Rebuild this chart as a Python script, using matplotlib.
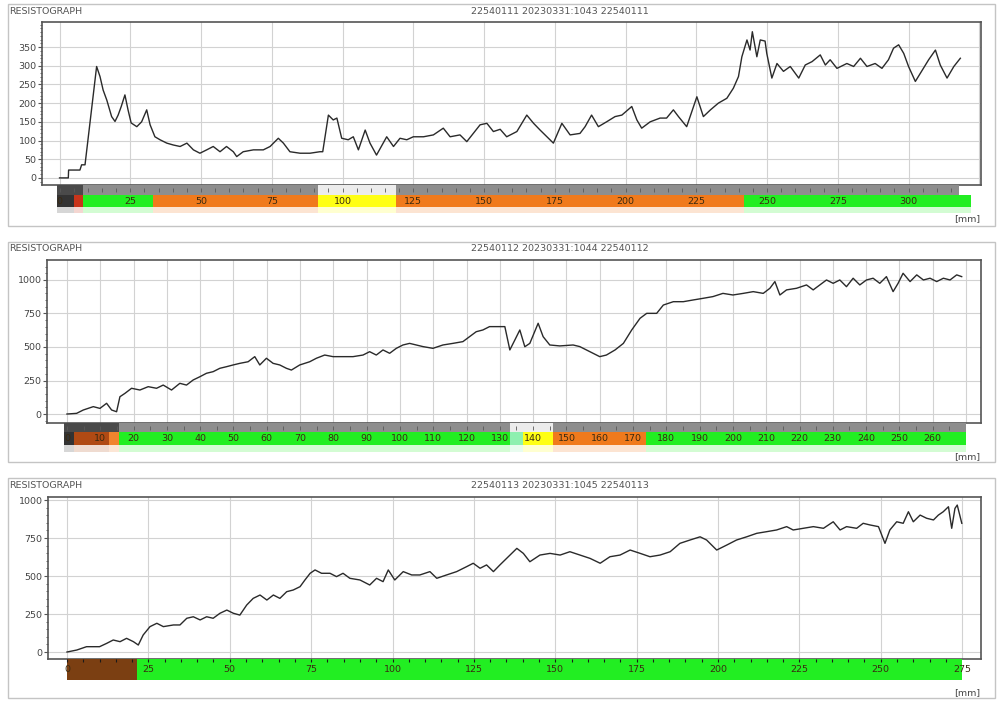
import matplotlib
matplotlib.use("Agg")
import matplotlib.pyplot as plt
from matplotlib.patches import Rectangle
from matplotlib.ticker import MultipleLocator, AutoMinorLocator

# ---------------- data ----------------
titles = ["22540111 20230331:1043 22540111",
          "22540112 20230331:1044 22540112",
          "22540113 20230331:1045 22540113"]

depth1 = [0, 3.1, 3.2, 7.2, 7.8, 9.0, 13.1, 14.3, 15.4, 16.7, 18.4, 19.6, 20.7, 21.8, 23.1, 24.2, 25.3, 27.3, 29.0,
          30.8, 32.0, 33.7, 35.5, 37.9, 40.2, 42.6, 45.0, 47.3, 49.6, 52.0, 54.3, 56.7, 59.0, 61.4, 62.6, 64.9, 68.5,
          72.0, 74.4, 77.3, 79.1, 81.4, 85.0, 88.5, 92.0, 93.0, 95.0, 96.7, 98.0, 99.7, 102.0, 103.8, 105.6, 108.0,
          109.7, 112.0, 115.6, 118.0, 120.3, 122.7, 125.0, 128.6, 132.1, 135.6, 138.0, 141.5, 143.9, 146.2, 148.6,
          151.0, 153.3, 155.7, 158.0, 161.6, 165.1, 167.5, 169.8, 172.2, 174.5, 177.5, 180.4, 183.9, 185.7, 188.0,
          190.4, 193.3, 196.3, 198.7, 202.2, 204.0, 205.7, 208.7, 212.2, 214.5, 216.9, 218.7, 221.6, 225.2, 227.5,
          230.0, 232.8, 235.8, 238.1, 239.9, 241.1, 242.9, 244.0, 244.8, 246.4, 247.6, 249.3, 249.9, 251.7, 253.5,
          255.8, 258.2, 261.2, 263.5, 265.9, 268.8, 270.6, 272.3, 274.7, 278.2, 280.6, 283.0, 285.3, 288.2, 290.6,
          292.9, 294.7, 296.5, 298.3, 300.0, 302.4, 304.2, 307.1, 309.5, 311.2, 313.6, 316.0, 318.3]
amp1 = [0, 0, 21, 21, 35, 35, 298, 271, 235, 208, 164, 151, 168, 191, 222, 182, 147, 137, 150,
        182, 142, 110, 102, 93, 88, 84, 93, 75, 66, 75, 84, 70, 84, 70, 57, 70, 75,
        75, 84, 106, 93, 70, 66, 66, 70, 70, 168, 155, 160, 106, 102, 110, 75, 128,
        93, 61, 110, 84, 106, 102, 110, 110, 115, 133, 110, 115, 97, 119, 142,
        146, 124, 130, 110, 124, 168, 146, 128, 110, 93, 146, 115, 119, 137, 168,
        137, 150, 164, 168, 191, 155, 133, 150, 160, 160, 182, 164, 137, 217, 164,
        182, 200, 213, 240, 271, 324, 369, 342, 391, 324, 369, 366, 333, 267, 306,
        285, 298, 267, 302, 311, 329, 302, 316, 293, 306, 298, 320, 298, 306, 293,
        316, 347, 356, 333, 298, 258, 280, 316, 342, 302, 267, 298, 320]

depth2 = [0, 2.9, 4.9, 7.9, 9.9, 11.9, 13.4, 14.9, 15.9, 17.4, 19.4, 21.9, 24.4, 26.9, 28.9, 31.4, 33.9, 35.9, 37.9,
          39.9, 41.9, 43.9, 45.9, 47.9, 49.9, 51.9, 54.4, 56.4, 57.9, 59.9, 61.9, 63.9, 65.9, 67.4, 69.9, 72.9, 74.9,
          77.4, 79.9, 82.9, 85.9, 88.9, 90.9, 92.9, 94.9, 96.9, 98.9, 100.9, 102.9, 104.9, 106.9, 109.9, 112.9, 115.9,
          118.9, 120.9, 122.9, 124.9, 126.9, 129.9, 131.5, 133.0, 134.5, 136.0, 137.5, 139.0, 141.5, 143.0, 145.0,
          148.0, 152.0, 154.0, 156.0, 158.0, 160.0, 162.0, 164.6, 167.1, 169.6, 172.1, 174.1, 177.1, 179.1, 182.1,
          185.1, 188.1, 191.0, 194.0, 197.0, 200.0, 203.1, 206.1, 209.1, 211.1, 212.6, 214.1, 216.1, 219.1, 222.1,
          224.1, 226.1, 228.1, 230.1, 232.1, 234.1, 236.1, 238.1, 240.1, 242.1, 244.1, 246.1, 248.1, 249.6, 251.1,
          253.2, 255.2, 257.2, 259.2, 261.2, 263.2, 265.2, 267.2, 268.7]
amp2 = [0, 5, 30, 55, 42, 80, 30, 17, 129, 154, 192, 179, 204, 192, 216, 179, 229, 216, 254,
        278, 304, 316, 341, 353, 366, 378, 390, 428, 366, 416, 378, 366, 341, 328, 366, 390, 416,
        440, 428, 428, 428, 440, 465, 440, 478, 453, 490, 515, 527, 515, 503, 490, 515, 527,
        540, 577, 614, 627, 652, 652, 652, 478, 552, 627, 502, 527, 677, 577, 515,
        508, 515, 503, 478, 453, 428, 440, 478, 527, 627, 714, 751, 751, 813, 838,
        838, 851, 863, 876, 900, 888, 900, 913, 900, 938, 988, 888, 926, 938, 963,
        926, 963, 1000, 975, 1000, 950, 1013, 963, 1000, 1013, 975, 1025, 913, 975, 1050,
        988, 1038, 1000, 1013, 988, 1013, 1000, 1038, 1025]

depth3 = [0, 3, 6, 10, 12.2, 14.2, 16.3, 18.3, 20.4, 21.9, 23.4, 25.5, 27.6, 29.6, 32.7, 34.7, 36.8, 38.8, 40.9,
          42.9, 44.9, 47.0, 49.1, 51.1, 53.1, 55.2, 57.2, 59.3, 61.4, 63.4, 65.4, 67.5, 69.5, 71.6, 73.1, 74.7, 76.2,
          78.2, 80.8, 82.8, 84.8, 86.9, 90.0, 93.0, 95.1, 97.1, 98.7, 100.7, 103.3, 105.9, 108.4, 111.5, 113.6, 116.6,
          119.7, 122.8, 124.8, 126.9, 128.9, 131.0, 133.0, 136.1, 138.2, 140.2, 142.2, 145.3, 148.4, 151.5, 154.5,
          157.6, 160.7, 163.8, 166.8, 169.9, 173.0, 176.1, 179.1, 182.2, 185.3, 188.3, 191.4, 194.5, 196.5, 199.6,
          202.7, 205.7, 208.8, 211.9, 215.0, 218.0, 221.1, 223.1, 226.2, 229.3, 232.4, 235.4, 237.5, 239.5, 242.6,
          244.6, 246.7, 249.3, 251.3, 252.8, 254.9, 256.9, 258.5, 260.0, 262.1, 264.1, 266.2, 267.7, 269.2, 270.8,
          271.8, 272.8, 273.5, 274.9]
amp3 = [0, 13, 35, 35, 57, 79, 68, 90, 68, 46, 112, 167, 189, 167, 178, 178, 222, 232, 211,
        232, 222, 255, 276, 255, 243, 309, 353, 375, 342, 375, 353, 397, 408, 430, 474, 518, 540,
        518, 518, 496, 518, 485, 474, 441, 485, 463, 540, 474, 529, 507, 507, 529, 485, 507,
        529, 562, 584, 551, 573, 529, 573, 638, 682, 649, 594, 638, 649, 638, 660,
        638, 616, 584, 627, 638, 671, 649, 627, 638, 660, 715, 737, 758, 737, 671,
        704, 737, 758, 781, 792, 803, 825, 803, 814, 825, 814, 857, 803, 825, 814,
        847, 836, 825, 715, 803, 857, 847, 923, 857, 901, 880, 869, 901, 923, 956,
        814, 945, 967, 847]

# assessment bars: segment starts, ends, colours
bar1_start = [-1, 5, 8.3, 33, 91.3, 119, 242]
bar1_end = [5, 8.3, 33, 91.3, 119, 242, 322]
bar1_col = ["#333333", "#c8341a", "#22ee22", "#f07a1c", "#ffff14", "#f07a1c", "#22ee22"]
gray1_start = [-1, 8.3, 91.3, 119]
gray1_end = [8.3, 91.3, 119, 318]
gray1_col = ["#4a4a4a", "#8e8e8e", "#ececec", "#8e8e8e"]

bar2_start = [-1, 2, 12.5, 15.5, 133, 137, 146, 174]
bar2_end = [2, 12.5, 15.5, 133, 137, 146, 174, 270]
bar2_col = ["#333333", "#b04a14", "#f0842e", "#22ee22", "#8ef0b0", "#ffff14", "#f07a1c", "#22ee22"]
gray2_start = [-1, 15.5, 133, 146]
gray2_end = [15.5, 133, 146, 270]
gray2_col = ["#4a4a4a", "#8e8e8e", "#ececec", "#8e8e8e"]

bar3_start = [0, 21.5]
bar3_end = [21.5, 275]
bar3_col = ["#7b3f12", "#22ee22"]

ticks1 = [0, 25, 50, 75, 100, 125, 150, 175, 200, 225, 250, 275, 300]
ticks2 = list(range(0, 261, 10))
ticks3 = [0, 25, 50, 75, 100, 125, 150, 175, 200, 225, 250, 275]
yticks1 = [0, 50, 100, 150, 200, 250, 300, 350]
yticks23 = [0, 250, 500, 750, 1000]

# ---------------- layout ----------------
W, H = 1001, 701
fig = plt.figure(figsize=(W / 100, H / 100), dpi=100)
fig.patch.set_facecolor("white")
plt.rcParams["font.family"] = ["DejaVu Sans"]
FS = 6.8


def rect(x0, y0, x1, y1):
    return [x0 / W, 1 - y1 / H, (x1 - x0) / W, (y1 - y0) / H]


panels = [
    dict(frame=(8, 4, 995, 226), head_y=12, ax=(42, 22, 981, 185), xlim=(-6.2, 325.6), ylim=(-19, 417),
         bar=(42, 185, 981, 213), gray=(0, 10), color=(10, 22), pale=(22, 28), mm_y=219,
         x=depth1, y=amp1, yt=yticks1, xt=ticks1, xgrid=25,
         bs=bar1_start, be=bar1_end, bc=bar1_col, gs=gray1_start, ge=gray1_end, gc=gray1_col, ymin=10),
    dict(frame=(8, 242, 995, 462), head_y=249, ax=(47, 260, 981, 423), xlim=(-6.0, 274.5), ylim=(-67, 1149),
         bar=(47, 423, 981, 452), gray=(0, 9), color=(9, 22), pale=(22, 29), mm_y=457,
         x=depth2, y=amp2, yt=yticks23, xt=ticks2, xgrid=10,
         bs=bar2_start, be=bar2_end, bc=bar2_col, gs=gray2_start, ge=gray2_end, gc=gray2_col, ymin=50),
    dict(frame=(8, 478, 995, 698), head_y=486, ax=(48, 497, 981, 659), xlim=(-5.84, 280.8), ylim=(-46, 1020),
         bar=(48, 659, 981, 681), gray=None, color=(0, 21), pale=None, mm_y=693,
         x=depth3, y=amp3, yt=yticks23, xt=ticks3, xgrid=25,
         bs=bar3_start, be=bar3_end, bc=bar3_col, gs=[], ge=[], gc=[], ymin=50),
]


def lighten(c, f=0.75):
    import matplotlib.colors as mc
    r, g, b = mc.to_rgb(c)
    return (r + (1 - r) * f, g + (1 - g) * f, b + (1 - b) * f)


for i, p in enumerate(panels):
    fx0, fy0, fx1, fy1 = p["frame"]
    fig.add_artist(Rectangle((fx0 / W, 1 - fy1 / H), (fx1 - fx0) / W, (fy1 - fy0) / H,
                             transform=fig.transFigure, fill=False, edgecolor="#c4c4c4", lw=1.0))
    fig.text(9 / W, 1 - p["head_y"] / H, "RESISTOGRAPH", fontsize=FS, color="#555555",
             ha="left", va="center")
    fig.text(560 / W, 1 - p["head_y"] / H, titles[i], fontsize=FS, color="#555555",
             ha="center", va="center")

    ax = fig.add_axes(rect(*p["ax"]))
    ax.plot(p["x"], p["y"], color="#2a2a2a", lw=1.0)
    ax.set_xlim(*p["xlim"])
    ax.set_ylim(*p["ylim"])
    ax.set_yticks(p["yt"])
    ax.yaxis.set_minor_locator(MultipleLocator(p["ymin"]))
    ax.xaxis.set_major_locator(MultipleLocator(p["xgrid"]))
    ax.grid(True, which="major", color="#d2d2d2", lw=0.8)
    ax.tick_params(axis="x", which="both", bottom=False, labelbottom=False)
    ax.tick_params(axis="y", which="major", length=3, labelsize=FS, labelcolor="#444444",
                   color="#555555", pad=1)
    ax.tick_params(axis="y", which="minor", length=1.5, color="#555555")
    for s in ax.spines.values():
        s.set_color("#555555")
        s.set_linewidth(1.2)

    bx = fig.add_axes(rect(*p["bar"]))
    bx.set_xlim(*p["xlim"])
    by0, by1 = p["bar"][1], p["bar"][3]
    bx.set_ylim(by1 - by0, 0)
    bx.axis("off")
    c0, c1 = p["color"]
    for s, e, c in zip(p["bs"], p["be"], p["bc"]):
        bx.add_patch(Rectangle((s, c0), e - s, c1 - c0, color=c, lw=0))
        if p["pale"]:
            q0, q1 = p["pale"]
            bx.add_patch(Rectangle((s, q0), e - s, q1 - q0, color=lighten(c, 0.8), lw=0))
    if p["gray"]:
        g0, g1 = p["gray"]
        for s, e, c in zip(p["gs"], p["ge"], p["gc"]):
            bx.add_patch(Rectangle((s, g0), e - s, g1 - g0, color=c, lw=0))
        tk = [t for t in range(0, int(p["ge"][-1]), 5)]
        bx.vlines(tk, g0 + 3, g0 + 7, color="#5a5a5a", lw=0.6)
    else:
        tk = [t for t in range(0, int(p["be"][-1]), 5)]
        bx.vlines(tk, c0, c0 + 2.5, color="#1a1a1a", lw=0.8)
    for t in p["xt"]:
        bx.text(t, (c0 + c1) / 2, str(t), fontsize=FS, color="#3a2a10", ha="center", va="center")

    fig.text(980 / W, 1 - p["mm_y"] / H, "[mm]", fontsize=FS, color="#444444", ha="right", va="center")

fig.savefig("out.png", dpi=100, facecolor="white")
